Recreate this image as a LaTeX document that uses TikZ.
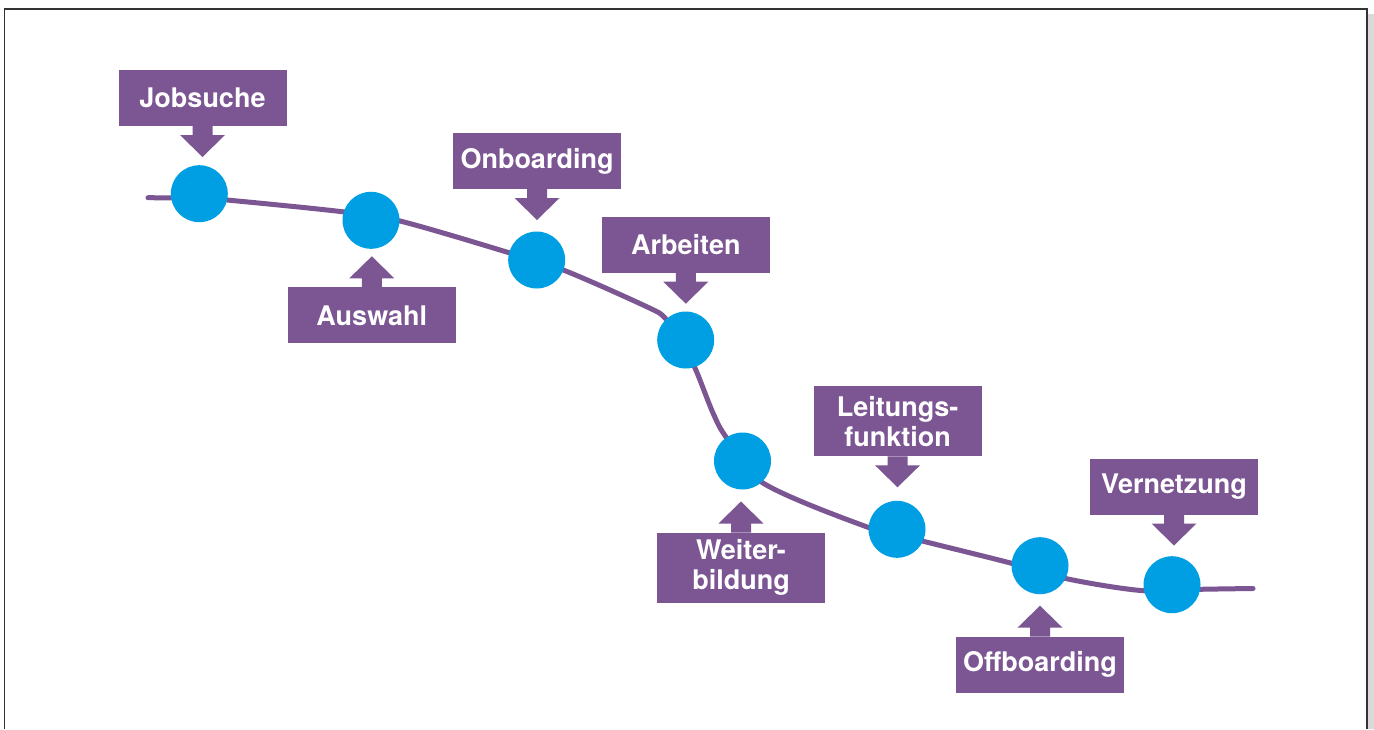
\documentclass[tikz,border=0pt]{standalone}
\usepackage{fontspec}
\setmainfont{TeX Gyre Heros}
\usetikzlibrary{calc}
\definecolor{lila}{HTML}{7C5593}
\definecolor{punkt}{HTML}{009FE3}
\tikzset{
  labelbox/.style={fill=lila, text=white, font=\bfseries\fontsize{27}{30}\selectfont,
    minimum width=168pt, minimum height=56pt, inner sep=0pt, outer sep=0pt, align=center},
  twoline/.style={minimum height=70pt},
  dot/.style={circle, fill=punkt, minimum size=57pt, inner sep=0pt, outer sep=0pt},
  track/.style={draw=lila, line width=5pt, line cap=round},
  pointer/.style={fill=lila}
}
\newcommand\arrdown[1]{%
  \fill[pointer] ([xshift=-10pt]#1.south) -- ++(0,9) -- ++(-12.5,0) -- ++(22.5,22) -- ++(22.5,-22) -- ++(-12.5,0) -- ++(0,-9) -- cycle;}
\newcommand\arrup[1]{%
  \fill[pointer] ([xshift=-10pt]#1.north) -- ++(0,-9) -- ++(-12.5,0) -- ++(22.5,-22) -- ++(22.5,22) -- ++(-12.5,0) -- ++(0,9) -- cycle;}
\begin{document}
\begin{tikzpicture}[x=1pt, y=-1pt]
\useasboundingbox (0,0) rectangle (1374,729);
\fill[white] (0,0) rectangle (1374,729);
% frame
\fill[black!15] (1368,14) rectangle (1374,729);
\draw[line width=1.3pt, black!80] (4.5,729) -- (4.5,9) -- (1367,9) -- (1367,729);
% track
\draw[track] plot[smooth, tension=0.55] coordinates {
  (148,197.7) (199,198.3) (227,200) (342,211.7) (400,221) (510,253) (565,270.7)
  (646.7,306.7) (665,318) (680,340) (695,368) (713,413) (726.7,438) (763,483)
  (870,528) (925,541.7) (1011.7,563.3) (1068,579) (1143,590.7) (1200,589.3) (1253,588.5)};
% dots
\node[dot] (d1) at (199.3,193.7) {};
\node[dot] (d2) at (371,220.3) {};
\node[dot] (d3) at (536.7,260) {};
\node[dot] (d4) at (685.7,340) {};
\node[dot] (d5) at (742.5,461) {};
\node[dot] (d6) at (897,529.3) {};
\node[dot] (d7) at (1040,565.7) {};
\node[dot] (d8) at (1172,584.7) {};
% labels
\node[labelbox] (b1) at (202.5,98) {Jobsuche};
\node[labelbox] (b2) at (371.8,315.3) {Auswahl};
\node[labelbox] (b3) at (537,161) {Onboarding};
\node[labelbox] (b4) at (685.8,244.7) {Arbeiten};
\node[labelbox, twoline] (b5) at (741,567.5) {Weiter-\\bildung};
\node[labelbox, twoline] (b6) at (897.5,421.3) {Leitungs-\\funktion};
\node[labelbox] (b7) at (1040,664.7) {Offboarding};
\node[labelbox] (b8) at (1174,486.5) {Vernetzung};
% pointers
\arrdown{b1}
\arrup{b2}
\arrdown{b3}
\arrdown{b4}
\arrup{b5}
\arrdown{b6}
\arrup{b7}
\arrdown{b8}
\end{tikzpicture}
\end{document}
